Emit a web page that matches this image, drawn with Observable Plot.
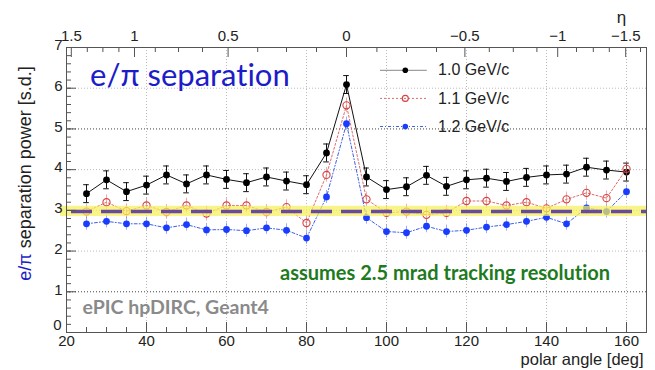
<!DOCTYPE html>
<html><head><meta charset="utf-8">
<script src="https://cdn.jsdelivr.net/npm/d3@7"></script>
<script src="https://cdn.jsdelivr.net/npm/@observablehq/plot@0.6"></script>
<style>body{margin:0;background:#fff} svg{display:block} svg text{font-variant-ligatures:none;font-feature-settings:"liga" 0}</style>
</head><body><div id="chart"></div>
<script>
// ---- data ----
const angles = [25,30,35,40,45,50,55,60,65,70,75,80,85,90,95,100,105,110,115,120,125,130,135,140,145,150,155,160];
const sep10 = [3.41,3.75,3.46,3.62,3.87,3.65,3.87,3.76,3.68,3.82,3.72,3.63,4.41,6.09,3.82,3.51,3.58,3.86,3.59,3.75,3.79,3.71,3.81,3.87,3.89,4.06,3.99,3.94];
const err10 = [0.22,0.22,0.22,0.22,0.22,0.22,0.22,0.22,0.22,0.22,0.22,0.22,0.22,0.22,0.22,0.22,0.22,0.22,0.22,0.22,0.22,0.22,0.22,0.22,0.22,0.22,0.22,0.22];
const sep11 = [2.97,3.20,2.98,3.12,2.96,3.12,2.92,3.12,3.12,2.96,3.08,2.69,3.87,5.58,3.27,2.94,2.97,2.89,2.94,3.23,3.23,3.12,3.20,3.05,3.27,3.43,3.30,4.02];
const err11 = [0.18,0.18,0.18,0.18,0.18,0.18,0.18,0.18,0.18,0.18,0.18,0.18,0.18,0.18,0.18,0.18,0.18,0.18,0.18,0.18,0.18,0.18,0.18,0.18,0.18,0.18,0.18,0.18];
const sep12 = [2.67,2.73,2.67,2.67,2.57,2.65,2.52,2.53,2.50,2.57,2.51,2.32,3.33,5.13,2.82,2.48,2.45,2.61,2.48,2.51,2.59,2.65,2.73,2.83,2.67,3.06,2.97,3.46];
const err12 = [0.16,0.16,0.16,0.16,0.16,0.16,0.16,0.16,0.16,0.16,0.16,0.16,0.16,0.16,0.16,0.16,0.16,0.16,0.16,0.16,0.16,0.16,0.16,0.16,0.16,0.16,0.16,0.16];
const seriesLabels = ["1.0 GeV/c", "1.1 GeV/c", "1.2 GeV/c"];
const threshold = 2.97;
const thresholdBand = [2.85, 3.10];
const xTicks = [20,40,60,80,100,120,140,160];
const yTicks = [0,1,2,3,4,5,6,7];
const etaLabels = ["1.5","1","0.5","0","\u22120.5","\u22121","\u22121.5"];
const etaAngles = [21.2,37,60.4,90,119.6,142.8,159.8];
const etaMinorAngles = [25.2,29.1,33.1,42.2,48.0,54.0,67.8,75.0,82.5,97.6,105.0,112.5,125.7,131.7,137.6,147.5,151.7,155.7,163.5];
const titleText = "e/\u03c0 separation";
const noteText = "assumes 2.5 mrad tracking resolution";
const simText = "ePIC hpDIRC, Geant4";

// ---- build tables ----
const mk = (vals, errs) => angles.map((a, i) => ({angle: a, value: vals[i], err: errs[i]}));
const s10 = mk(sep10, err10), s11 = mk(sep11, err11), s12 = mk(sep12, err12);
const xDomain = [20, 165], yDomain = [0, 7];
const yMinor = d3.range(0, 7.001, 0.2).map(v => +v.toFixed(1));
const xMinor = d3.range(20, 165, 5);
const W = 655, H = 370, mL = 66, mR = 9, mT = 47, mB = 38;
const pw = W - mL - mR, ph = H - mT - mB;

const styles = [
  {stroke: "#111", dash: null, dot: {fill: "#000", r: 3.4}, errStroke: "#111", errOp: 1},
  {stroke: "#e06a6a", dash: "2,2", dot: {fill: "none", stroke: "#d94040", strokeWidth: 1.1, r: 3.6}, errStroke: "#e06a6a", errOp: 0.55},
  {stroke: "#4060e8", dash: "3,2,1,2", dot: {fill: "#1a3cff", r: 3.4}, errStroke: "#4060e8", errOp: 0.5}
];
const tables = [s10, s11, s12];

const marks = [];
// grid
marks.push(Plot.ruleX(xTicks.slice(1), {stroke: "#bbb", strokeDasharray: "1,2"}));
marks.push(Plot.ruleY([2, 3, 4, 6], {stroke: "#bbb", strokeDasharray: "1,2"}));
marks.push(Plot.ruleY([1, 5], {stroke: "#444", strokeDasharray: "1,2"}));
// series
tables.forEach((t, i) => {
  const s = styles[i];
  marks.push(Plot.line(t, {x: "angle", y: "value", stroke: s.stroke, strokeWidth: 1, strokeDasharray: s.dash}));
  marks.push(Plot.ruleX(t, {x: "angle", y1: d => d.value - d.err, y2: d => d.value + d.err, stroke: s.errStroke, strokeOpacity: s.errOp}));
  if (i === 0) {
    marks.push(Plot.ruleY(t, {y: d => d.value + d.err, x1: d => d.angle - 0.7, x2: d => d.angle + 0.7, stroke: s.errStroke}));
    marks.push(Plot.ruleY(t, {y: d => d.value - d.err, x1: d => d.angle - 0.7, x2: d => d.angle + 0.7, stroke: s.errStroke}));
  }
  marks.push(Plot.dot(t, {x: "angle", y: "value", ...s.dot}));
});
// threshold band + dashed line
marks.push(Plot.rect([thresholdBand], {x1: xDomain[0], x2: xDomain[1], y1: d => d[0], y2: d => d[1], fill: "#f6f05a", fillOpacity: 0.72, insetLeft: -6}));
marks.push(Plot.ruleY([threshold], {stroke: "#6a4a9c", strokeWidth: 3.5, strokeDasharray: "21,9", strokeDashoffset: 25}));
// frame
marks.push(Plot.frame({stroke: "#555"}));
// left axis ticks and labels
marks.push(Plot.tickY(yMinor, {y: d => d, insetRight: pw - 5, stroke: "#555"}));
marks.push(Plot.tickY(yTicks, {y: d => d, insetRight: pw - 10, stroke: "#555"}));
marks.push(Plot.text(yTicks.slice(1), {y: d => d, text: d => String(d), frameAnchor: "left", textAnchor: "end", dx: -4, dy: -2, fontSize: 15, fill: "#222"}));
marks.push(Plot.text(yTicks.slice(0, 1), {y: d => d, text: d => String(d), frameAnchor: "left", textAnchor: "end", dx: -5, dy: -7, fontSize: 15, fill: "#222"}));
// bottom axis
marks.push(Plot.tickX(xMinor, {x: d => d, insetTop: ph - 5, stroke: "#555"}));
marks.push(Plot.tickX(xTicks, {x: d => d, insetTop: ph - 10, stroke: "#555"}));
marks.push(Plot.text(xTicks, {x: d => d, text: d => String(d), frameAnchor: "bottom", lineAnchor: "top", dy: 3, fontSize: 15, fill: "#222"}));
marks.push(Plot.text(["polar angle [deg]"], {frameAnchor: "bottom-right", textAnchor: "end", lineAnchor: "top", dy: 20.5, dx: -3, fontSize: 16.5, fill: "#222"}));
// top eta axis
marks.push(Plot.tickX(etaMinorAngles, {x: d => d, insetBottom: ph - 5, stroke: "#555"}));
marks.push(Plot.tickX(etaAngles, {x: d => d, insetBottom: ph - 10, stroke: "#555"}));
marks.push(Plot.text(etaAngles, {x: d => d, text: (d, i) => etaLabels[i], frameAnchor: "top", lineAnchor: "bottom", dy: -7, fontSize: 15, fill: "#222"}));
marks.push(Plot.text(["\u03b7"], {frameAnchor: "top-right", textAnchor: "middle", lineAnchor: "middle", dx: -25, dy: -30, fontSize: 17, fill: "#222"}));
// legend
const legX0 = 98.5, legX1 = 110.2, legXm = 104.7, legXt = 112.9;
const legRows = seriesLabels.map((label, i) => ({label, i, y: 6.44 - i * 0.69}));
legRows.forEach((r, i) => {
  const s = styles[i];
  marks.push(Plot.ruleY([r], {y: "y", x1: legX0, x2: legX1, stroke: i === 0 ? "#888" : s.stroke, strokeDasharray: s.dash}));
  marks.push(Plot.dot([r], {y: "y", x: legXm, ...s.dot, r: s.dot.r - 0.6}));
  marks.push(Plot.text([r], {y: "y", x: legXt, text: "label", textAnchor: "start", fontSize: 16, fill: "#222"}));
});
// annotations
marks.push(Plot.text([titleText], {x: 25.9, y: 6.3, textAnchor: "start", fontSize: 31, fill: "#1c1cc8", fontFamily: "Lato"}));
marks.push(Plot.text([noteText], {x: 73.4, y: 1.45, textAnchor: "start", fontSize: 20, fontWeight: "bold", fill: "#1e7a1e", fontFamily: "Lato"}));
marks.push(Plot.text([simText], {x: 24, y: 0.61, textAnchor: "start", fontSize: 19.5, fontWeight: "bold", fill: "#8a8a8a", fontFamily: "Lato"}));

const chart = Plot.plot({
  width: W, height: H,
  marginLeft: mL, marginRight: mR, marginTop: mT, marginBottom: mB,
  style: {fontFamily: "'Liberation Sans', Arial, sans-serif", background: "#fff", overflow: "visible"},
  x: {domain: xDomain, axis: null},
  y: {domain: yDomain, axis: null},
  marks
});
// rotated y title with two-colour text
const svg = d3.select(chart);
const yt = svg.append("text")
  .attr("transform", `translate(31,${(32 + 315) / 2}) rotate(-90)`)
  .attr("text-anchor", "middle")
  .attr("font-size", 18)
  .attr("font-family", "'Liberation Sans', Arial, sans-serif");
yt.append("tspan").attr("fill", "#1c1cc8").text("e/\u03c0");
yt.append("tspan").attr("fill", "#222").text(" separation power [s.d.]");
document.getElementById("chart").appendChild(chart);
</script>
</body></html>
